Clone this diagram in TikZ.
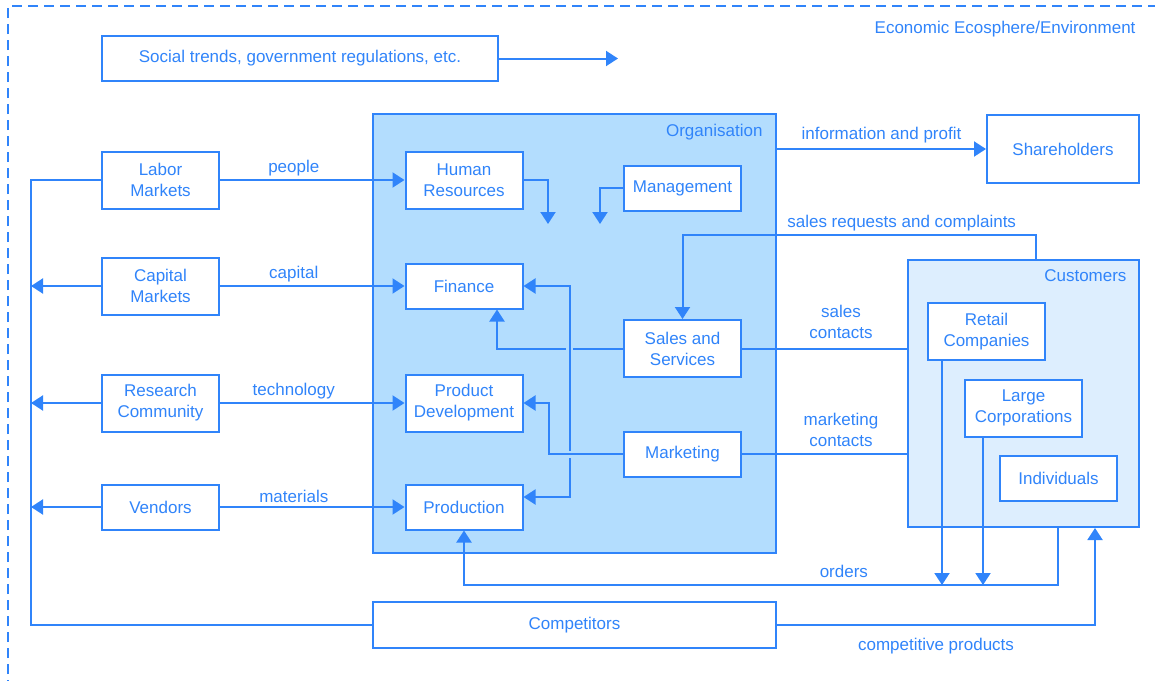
\documentclass[tikz,border=0pt]{standalone}
\usepackage{fontspec}
\setmainfont{Liberation Sans}
\usetikzlibrary{arrows.meta}
\usetikzlibrary{calc}
\definecolor{eblue}{RGB}{48,132,250}
\definecolor{orgfill}{RGB}{179,221,254}
\definecolor{custfill}{RGB}{221,238,254}
\tikzset{l/.style={font=\fontsize{17}{21}\selectfont, text=eblue}}
\tikzset{box/.style={l, draw=eblue, fill=white, line width=2pt, minimum width=117pt, minimum height=45pt, align=center, inner sep=2pt}}
\tikzset{tall/.style={box, minimum height=57pt}}
\tikzset{wire/.style={draw=eblue, line width=2pt}}
\tikzset{arr/.style={wire, -{Triangle[length=12pt,width=15pt]}}}
\tikzset{arrs/.style={wire, {Triangle[length=12pt,width=15pt]}-{Triangle[length=12pt,width=15pt]}}}
\tikzset{gap/.style={preaction={draw=orgfill, line width=7pt, arrows=-}}}
\pgfdeclarelayer{back}
\pgfdeclarelayer{wires}
\pgfsetlayers{back,wires,main}

\begin{document}
\begin{tikzpicture}[x=1pt,y=-1pt]
  \useasboundingbox (0,0) rectangle (1155,680);
  \draw[eblue, line width=1.5pt, dash pattern=on 10pt off 6pt] (8,690) -- (8,6) -- (1165,6);
  \node[l, anchor=east] at (1139,29) {Economic Ecosphere/Environment};
  \node[box, minimum width=396pt] (soc) at (300,58.5) {Social trends, government regulations, etc.};
  \coordinate (socend) at (618,58.5);
  \draw[arr] (soc.east) -- (socend);
  % organisation and customers
  \begin{pgfonlayer}{back}
    \node[wire, fill=orgfill, minimum width=403pt, minimum height=439pt] (org) at (574.5,333.5) {};
    \node[wire, fill=custfill, minimum width=231pt, minimum height=267pt] (cust) at (1023.5,393.5) {};
  \end{pgfonlayer}
  \node[l, anchor=east] at (766,132.5) {Organisation};
  \node[l, anchor=east] at (1130,276) {Customers};
  \node[tall] (hr) at (464,180) {Human\\Resources};
  \node[box] (mgmt) at (682.5,188) {Management};
  \node[box] (fin) at (464,286) {Finance};
  \node[tall] (pd) at (464,403) {Product\\Development};
  \node[box] (prod) at (464,507) {Production};
  \node[tall] (sales) at (682.5,348.5) {Sales and\\Services};
  \node[box] (mkt) at (682.5,454) {Marketing};
  \coordinate (hrend) at (548,224);
  \coordinate (mgend) at (600,224);
  \draw[arr] (hr.east) -| (hrend);
  \draw[arr] (mgmt.west) -| (mgend);
  \begin{pgfonlayer}{wires}
    \draw[arr] (sales.west) -| ($(fin.south)+(33,0)$);
    \draw[arrs, gap] (fin.east) -- ++(46,0) |- ($(prod.east)+(0,-10)$);
    \draw[arr, gap] (mkt.west) -| ($(pd.east)+(25,0)$) -- (pd.east);
  \end{pgfonlayer}
  % environment
  \node[tall] (lab) at (160.5,180) {Labor\\Markets}
    edge [arr] node [l, above, pos=.4] {people} (hr);
  \node[tall] (cap) at (160.5,286) {Capital\\Markets}
    edge [arr] node [l, above, pos=.4] {capital} (fin);
  \node[tall] (res) at (160.5,403) {Research\\Community}
    edge [arr] node [l, above, pos=.4] {technology} (pd);
  \node[box] (ven) at (160.5,507) {Vendors}
    edge [arr] node [l, above, pos=.4] {materials} (prod);
  \node[box, minimum width=403pt, minimum height=46pt] (comp) at (574.5,625) {Competitors};
  \coordinate (bus) at (31,0);
  \draw[wire] (lab.west) -| (bus |- comp.west) -- (comp.west);
  \foreach \n in {cap,res,ven}
    \draw[arr] (\n.west) -- (\n.west -| bus);
  \node[box, minimum width=152pt, minimum height=68pt] (sh) at (1063,149) {Shareholders};
  \draw[arr] (org.east |- sh.west) -- node[l, above=2pt] {information and profit} (sh.west);
  % customers
  \node[tall] (ret) at (986.5,331.5) {Retail\\Companies};
  \node[tall] (lc) at (1023.5,408) {Large\\Corporations};
  \node[box] (ind) at (1058.5,478) {Individuals};
  \draw[wire] (sales.east) -- node[l, above=6pt, pos=.6, align=center] {sales\\contacts} (sales.east -| cust.west);
  \draw[wire] (mkt.east) -- node[l, above=3pt, pos=.6, align=center] {marketing\\contacts} (mkt.east -| cust.west);
  \coordinate (req) at (1036,235);
  \draw[arr] (cust.north -| req) -- (req) -| node[l, above, pos=.19] {sales requests and complaints} (sales.north);
  \coordinate (ordr) at (1057.5,585);
  \draw[arr] (cust.south -| ordr) -- (ordr) -| node[l, above=3pt, pos=.18] {orders} (prod.south);
  \coordinate (retx) at ($(ret.south)+(-44.5,0)$);
  \coordinate (lcx) at ($(lc.south)+(-40.5,0)$);
  \draw[arr] (retx) -- (retx |- ordr);
  \draw[arr] (lcx) -- (lcx |- ordr);
  \coordinate (cpx) at (1095,0);
  \draw[arr] (comp.east) -| node[l, below=9pt, pos=.25] {competitive products} (cust.south -| cpx);
\end{tikzpicture}
\end{document}
